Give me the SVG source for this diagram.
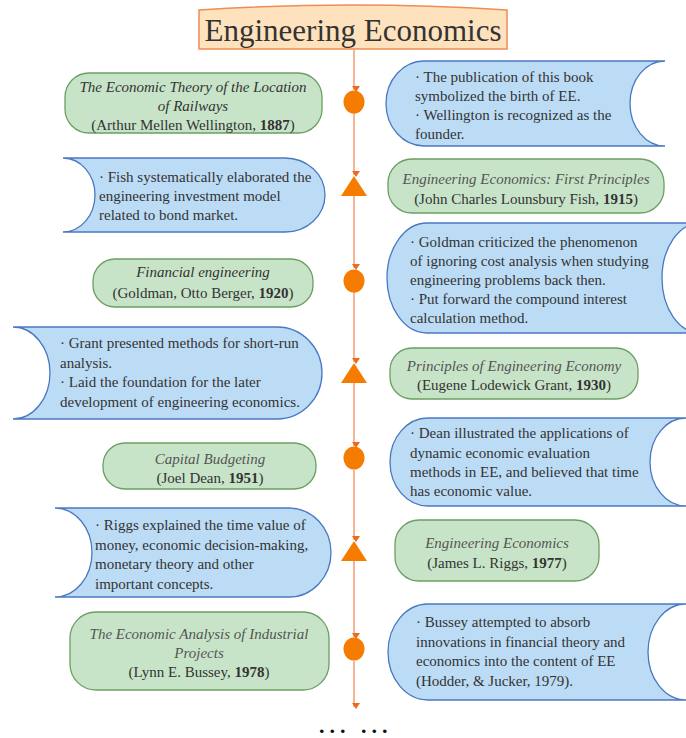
<svg xmlns="http://www.w3.org/2000/svg" width="686" height="738" viewBox="0 0 686 738">
<defs>
<style>
.t{font-family:"Liberation Serif","Times New Roman",serif;font-size:15px;fill:#333}
.i{font-style:italic}
.c{text-anchor:middle}
.b{font-weight:bold}
.green{fill:#c8e4c8;stroke:#6b9f62;stroke-width:1.3}
.blue{fill:#bcdcf6;stroke:#4a78c2;stroke-width:1.3}
.line{stroke:#f4a27a;stroke-width:1.6;fill:none;marker-end:url(#ah)}
.mk{fill:#f57c00}
.dots{font-family:"Liberation Serif","Times New Roman",serif;font-size:22px;font-weight:bold;fill:#111;letter-spacing:5px}
</style>
<marker id="ah" markerWidth="8" markerHeight="8" refX="4" refY="6" orient="auto-start-reverse" markerUnits="userSpaceOnUse" viewBox="0 0 8 8">
<path d="M0,0 L8,0 L4,6 Z" fill="#ef6a1c" transform="rotate(-90 4 4)"/>
</marker>
</defs>
<rect width="686" height="738" fill="#fff"/>

<g id="title">
<path d="M199,10 Q353,0 507,10 L507,49 L199,49 Z" fill="#fde2bd" stroke="#ee8d55" stroke-width="1.5"/>
<text x="353" y="41" class="t c" style="font-size:31px">Engineering Economics</text>
</g>

<g id="connectors">
<line x1="354" y1="49" x2="354" y2="90" class="line"/>
<line x1="354" y1="113" x2="354" y2="175" class="line"/>
<line x1="354" y1="195" x2="354" y2="268" class="line"/>
<line x1="354" y1="292" x2="354" y2="362" class="line"/>
<line x1="354" y1="383" x2="354" y2="446" class="line"/>
<line x1="354" y1="470" x2="354" y2="540" class="line"/>
<line x1="354" y1="561" x2="354" y2="637" class="line"/>
<line x1="354" y1="661" x2="354" y2="707" class="line"/>
</g>

<g id="markers">
<ellipse cx="354" cy="102" rx="10.5" ry="11.5" class="mk"/>
<polygon points="354,176 367,196 341,196" class="mk"/>
<ellipse cx="354" cy="281" rx="10.5" ry="11.5" class="mk"/>
<polygon points="354,363 367,383 341,383" class="mk"/>
<ellipse cx="354" cy="458" rx="10.5" ry="11.5" class="mk"/>
<polygon points="354,541 367,561 341,561" class="mk"/>
<ellipse cx="354" cy="649" rx="10.5" ry="11.5" class="mk"/>
</g>

<g id="n1887">
<rect x="65" y="73" width="257" height="60" rx="24" class="green"/>
<text class="t i c" x="193" y="92">The Economic Theory of the Location</text>
<text class="t i c" x="193" y="111">of Railways</text>
<text class="t c" x="193" y="130">(Arthur Mellen Wellington, <tspan class="b">1887</tspan>)</text>
</g>

<g id="d1887">
<path d="M424,61 L665,61 A35,42.5 0 0 0 665,146 L424,146 A38,42.5 0 0 1 424,61 Z" class="blue"/>
<text class="t" x="415" y="82">· The publication of this book</text>
<text class="t" x="415" y="101">symbolized the birth of EE.</text>
<text class="t" x="415" y="120">· Wellington is recognized as the</text>
<text class="t" x="415" y="139">founder.</text>
</g>

<g id="d1915">
<path d="M63,158 L285,158 A40,37 0 0 1 285,232 L63,232 A32,37 0 0 0 63,158 Z" class="blue"/>
<text class="t" x="99" y="182">· Fish systematically elaborated the</text>
<text class="t" x="99" y="201">engineering investment model</text>
<text class="t" x="99" y="220">related to bond market.</text>
</g>

<g id="n1915">
<rect x="388" y="159" width="276" height="54" rx="24" class="green"/>
<text class="t i c" x="526" y="184" style="fill:#555">Engineering Economics: First Principles</text>
<text class="t c" x="526" y="204">(John Charles Lounsbury Fish, <tspan class="b">1915</tspan>)</text>
</g>

<g id="n1920">
<rect x="93" y="259" width="220" height="48" rx="22" class="green"/>
<text class="t i c" x="203" y="277">Financial engineering</text>
<text class="t c" x="203" y="298">(Goldman, Otto Berger, <tspan class="b">1920</tspan>)</text>
</g>

<g id="d1920">
<path d="M427,223 L700,223 A38,55 0 0 0 700,333 L427,333 A40,55 0 0 1 427,223 Z" class="blue"/>
<text class="t" x="410" y="247">· Goldman criticized the phenomenon</text>
<text class="t" x="410" y="266">of ignoring cost analysis when studying</text>
<text class="t" x="410" y="285">engineering problems back then.</text>
<text class="t" x="410" y="304">· Put forward the compound interest</text>
<text class="t" x="410" y="323">calculation method.</text>
</g>

<g id="d1930">
<path d="M13,327 L277,327 A45,46 0 0 1 277,419 L13,419 A37,46 0 0 0 13,327 Z" class="blue"/>
<text class="t" x="60" y="348">· Grant presented methods for short-run</text>
<text class="t" x="60" y="367.5">analysis.</text>
<text class="t" x="60" y="387">· Laid the foundation for the later</text>
<text class="t" x="60" y="406.5">development of engineering economics.</text>
</g>

<g id="n1930">
<rect x="390" y="348" width="248" height="51" rx="22" class="green"/>
<text class="t i c" x="514" y="371" style="fill:#555">Principles of Engineering Economy</text>
<text class="t c" x="514" y="390">(Eugene Lodewick Grant, <tspan class="b">1930</tspan>)</text>
</g>

<g id="n1951">
<rect x="103" y="443" width="213" height="46" rx="22" class="green"/>
<text class="t i c" x="210" y="464" style="fill:#555">Capital Budgeting</text>
<text class="t c" x="210" y="483">(Joel Dean, <tspan class="b">1951</tspan>)</text>
</g>

<g id="d1951">
<path d="M428,418 L686,418 A36,44 0 0 0 686,506 L428,506 A38,44 0 0 1 428,418 Z" class="blue"/>
<text class="t" x="410" y="438">· Dean illustrated the applications of</text>
<text class="t" x="410" y="458">dynamic economic evaluation</text>
<text class="t" x="410" y="477">methods in EE, and believed that time</text>
<text class="t" x="410" y="496">has economic value.</text>
</g>

<g id="d1977">
<path d="M55,508 L289,508 A42,44.5 0 0 1 289,597 L55,597 A37,44.5 0 0 0 55,508 Z" class="blue"/>
<text class="t" x="95" y="530">· Riggs explained the time value of</text>
<text class="t" x="95" y="549.5">money, economic decision-making,</text>
<text class="t" x="95" y="569">monetary theory and other</text>
<text class="t" x="95" y="588.5">important concepts.</text>
</g>

<g id="n1977">
<rect x="395" y="520" width="204" height="61" rx="24" class="green"/>
<text class="t i c" x="497" y="548" style="fill:#555">Engineering Economics</text>
<text class="t c" x="497" y="568">(James L. Riggs, <tspan class="b">1977</tspan>)</text>
</g>

<g id="n1978">
<rect x="70" y="612" width="259" height="78" rx="26" class="green"/>
<text class="t i c" x="199" y="639" style="fill:#555">The Economic Analysis of Industrial</text>
<text class="t i c" x="199" y="658" style="fill:#555">Projects</text>
<text class="t c" x="199" y="677">(Lynn E. Bussey, <tspan class="b">1978</tspan>)</text>
</g>

<g id="d1978">
<path d="M428,604 L686,604 A38,48 0 0 0 686,700 L428,700 A40,48 0 0 1 428,604 Z" class="blue"/>
<text class="t" x="416" y="627">· Bussey attempted to absorb</text>
<text class="t" x="416" y="646.5">innovations in financial theory and</text>
<text class="t" x="416" y="666">economics into the content of EE</text>
<text class="t" x="416" y="685.5">(Hodder, &amp; Jucker, 1979).</text>
</g>

<g id="more">
<text class="dots" x="319" y="733">...</text>
<text class="dots" x="361" y="733">...</text>
</g>
</svg>
